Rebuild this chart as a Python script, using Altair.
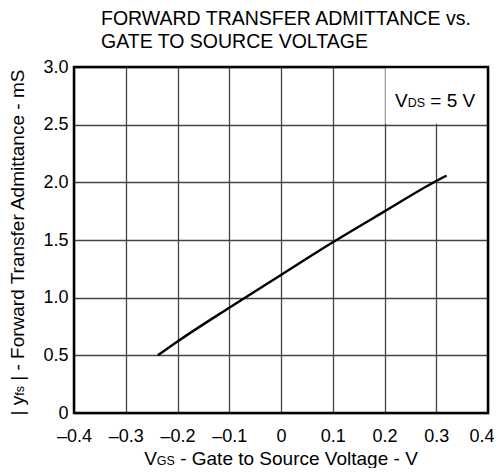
import altair as alt
import pandas as pd

# ---- data ----
vgs = [-0.238, -0.2, -0.1, 0.0, 0.1, 0.2, 0.3, 0.32]
yfs = [0.5, 0.62, 0.913, 1.197, 1.48, 1.748, 2.012, 2.058]
x_ticks = [-0.4, -0.3, -0.2, -0.1, 0.0, 0.1, 0.2, 0.3, 0.4]
y_ticks = [0.0, 0.5, 1.0, 1.5, 2.0, 2.5, 3.0]
title_lines = ["FORWARD TRANSFER ADMITTANCE vs.", "GATE TO SOURCE VOLTAGE"]
x_title = [("V", "big"), ("GS", "sub"), (" - Gate to Source Voltage - V", "big")]
y_title = [("| y", "big"), ("fs", "sub"), (" | - Forward Transfer Admittance - mS", "big")]
vds_label = [("V", "big"), ("DS", "sub"), (" = 5 V", "big")]
legend_box = {"x0": 0.2, "x1": 0.4, "y0": 2.5, "y1": 3.0}

FONT = "Liberation Sans"
W, H = 414, 346
BIG, SUB, TICK, TITLE = 19, 12.5, 18, 19.5

# Arial / Liberation Sans advance widths (1/1000 em)
AW = {' ': 278, '|': 260, '-': 333, '=': 584, '.': 278, '5': 556,
      'A': 667, 'C': 722, 'D': 722, 'F': 611, 'G': 778, 'M': 833, 'S': 667,
      'T': 611, 'V': 667, 'a': 556, 'c': 500, 'd': 556, 'e': 556, 'f': 278,
      'g': 556, 'i': 222, 'l': 222, 'm': 833, 'n': 556, 'o': 556, 'r': 333,
      's': 500, 't': 278, 'u': 556, 'w': 722, 'y': 500}


def tw(s, size):
    return sum(AW.get(c, 556) for c in s) / 1000.0 * size


def sz(kind):
    return BIG if kind == "big" else SUB


one = pd.DataFrame({"k": [0]})


def text_layer(s, x, y, size, angle=0):
    kw = dict(align="left", baseline="alphabetic", font=FONT, fontSize=size, color="black")
    if angle:
        kw["angle"] = angle
    return alt.Chart(one).mark_text(**kw).encode(
        x=alt.value(x), y=alt.value(y), text=alt.value(s))


def run_layers(pieces, start, fixed, horizontal=True):
    """Lay out text pieces one after another; leading spaces become offsets."""
    out = []
    pos = start
    for s, k in pieces:
        size = sz(k)
        lead = len(s) - len(s.lstrip(" "))
        pos_piece = pos + (tw(" " * lead, size) if horizontal else -tw(" " * lead, size))
        body = s.strip(" ")
        if horizontal:
            out.append(text_layer(body, pos_piece, fixed, size))
            pos += tw(s, size)
        else:
            out.append(text_layer(body, fixed, pos_piece, size, angle=270))
            pos -= tw(s, size)
    return out


df = pd.DataFrame({"vgs": vgs, "yfs": yfs})

xscale = alt.Scale(domain=[-0.4, 0.4], nice=False, zero=False)
yscale = alt.Scale(domain=[0, 3.0], nice=False, zero=False)

xaxis = alt.Axis(values=x_ticks, grid=True, gridColor="#444", gridWidth=1.3,
                 ticks=False, tickSize=0, domain=False, title=None,
                 labelFont=FONT, labelFontSize=TICK, labelColor="black",
                 labelPadding=14, labelFlush=False,
                 labelOffset={"condition": {"test": "datum.value > 0.35", "value": -6.5}, "value": 0},
                 labelExpr="datum.value == 0 ? '0' : (datum.value < 0 ? '\u2013' + format(-datum.value, '.1f') : format(datum.value, '.1f'))")
yaxis = alt.Axis(values=y_ticks, grid=True, gridColor="#444", gridWidth=1.3,
                 ticks=False, tickSize=0, domain=False, title=None,
                 labelFont=FONT, labelFontSize=TICK, labelColor="black",
                 labelPadding=6, labelFlush=False,
                 labelExpr="datum.value == 0 ? '0' : format(datum.value, '.1f')")

line = alt.Chart(df).mark_line(color="black", strokeWidth=2.4, interpolate="monotone").encode(
    x=alt.X("vgs:Q", scale=xscale, axis=xaxis),
    y=alt.Y("yfs:Q", scale=yscale, axis=yaxis),
)

box_df = pd.DataFrame([legend_box])
box = alt.Chart(box_df).mark_rect(fill="white", xOffset=1, yOffset=-1).encode(
    x=alt.X("x0:Q", scale=xscale), x2="x1:Q",
    y=alt.Y("y0:Q", scale=yscale), y2="y1:Q")

frame = alt.Chart(one).mark_rect(filled=False, stroke="black", strokeWidth=2.5).encode(
    x=alt.value(0), x2=alt.value(W), y=alt.value(0), y2=alt.value(H))

layers = [box, line, frame]

# chart title (two left-aligned lines)
layers.append(text_layer(title_lines[0], 27, -42, TITLE))
layers.append(text_layer(title_lines[1], 27, -19.5, TITLE))

# x axis title, centred under plot
total = sum(tw(s, sz(k)) for s, k in x_title)
layers += run_layers(x_title, W / 2 + 0.5 - total / 2, 398, horizontal=True)

# V_DS = 5 V label
layers += run_layers(vds_label, 321, 40, horizontal=True)

# y axis title, rotated, reading upward
total = sum(tw(s, sz(k)) for s, k in y_title)
layers += run_layers(y_title, 174.5 + total / 2, -50.5, horizontal=False)

chart = alt.layer(*layers).properties(
    width=W, height=H,
    autosize=alt.AutoSizeParams(type="none"),
    padding={"left": 66, "top": 59, "right": 6, "bottom": 55},
).configure_view(strokeWidth=0)

chart.save("out.html", embed_options={"renderer": "svg", "actions": False})
